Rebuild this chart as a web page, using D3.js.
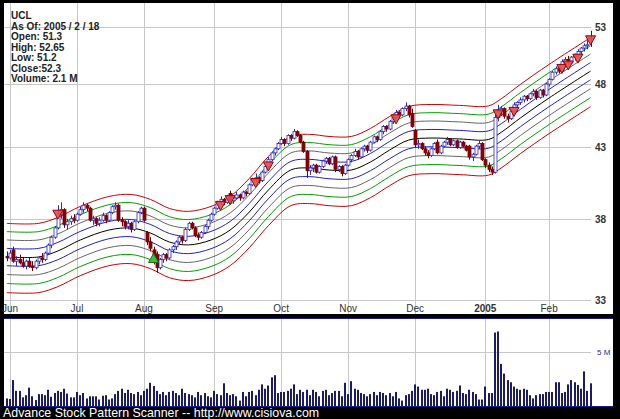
<!DOCTYPE html>
<html><head><meta charset="utf-8">
<script src="https://cdn.jsdelivr.net/npm/d3@7"></script>
<style>html,body{margin:0;padding:0;background:#000;}svg{display:block;}</style>
</head><body>
<script>
// ---- data ----
const opens  = [35.6,35.5,36.0,35.3,35.4,35.2,35.0,35.3,35.0,34.9,35.3,35.5,35.4,35.8,36.3,36.8,37.4,38.3,38.6,37.6,37.8,38.0,37.9,38.3,38.6,38.9,38.7,37.9,38.0,37.7,37.9,38.2,37.9,38.4,38.8,38.9,37.9,37.8,37.5,37.7,37.3,37.8,38.4,38.7,37.1,36.5,36.0,35.7,34.9,35.4,35.7,35.5,36.0,36.2,36.5,36.8,36.6,37.3,37.7,37.4,36.9,36.8,37.1,37.5,37.9,38.3,38.7,39.1,39.3,39.1,39.7,39.2,39.4,39.6,39.4,39.8,39.7,40.3,40.7,40.8,40.6,41.2,41.6,42.1,42.6,42.9,43.3,43.6,43.3,43.9,43.7,44.2,43.9,43.4,42.7,41.3,41.5,41.7,41.2,41.6,42.0,42.2,41.8,42.3,41.4,41.6,41.1,41.7,42.1,42.4,42.7,42.3,42.9,43.1,42.8,43.4,43.8,43.6,44.2,44.6,44.4,45.0,45.3,45.7,45.5,46.0,46.2,45.6,44.3,43.2,43.3,42.9,42.6,42.4,42.9,43.4,42.6,43.1,43.4,43.6,43.2,43.5,43.0,43.4,43.1,43.1,42.3,42.5,43.1,43.3,42.1,41.7,41.4,41.2,45.3,45.8,46.0,45.4,45.2,45.8,46.3,46.5,46.7,47.0,46.8,47.2,47.4,46.9,47.5,47.1,48.0,48.4,49.0,49.3,49.1,49.9,50.1,49.8,50.3,50.5,50.8,51.1,51.3];
const highs  = [35.9,36.0,36.2,35.6,35.7,35.5,35.4,35.5,35.3,35.4,35.6,35.8,35.9,36.4,36.9,37.5,38.9,39.1,38.7,38.0,38.2,38.3,38.4,38.8,39.1,39.0,38.8,38.2,38.1,38.1,38.4,38.3,38.5,38.9,39.1,39.0,38.1,37.9,37.9,37.8,37.9,38.5,38.8,38.8,37.2,36.8,36.2,35.9,35.5,35.8,35.8,36.1,36.3,36.6,36.9,36.9,37.4,37.8,37.8,37.5,37.1,37.2,37.6,38.0,38.4,38.8,39.2,39.5,39.4,39.6,39.9,39.5,39.8,39.7,39.9,39.9,40.4,40.8,41.1,40.9,41.3,41.7,42.3,42.7,43.0,43.4,43.8,43.7,44.0,44.0,44.4,44.3,44.0,43.5,42.8,41.7,41.8,41.8,41.7,42.1,42.3,42.3,42.4,42.4,41.7,41.7,41.8,42.2,42.5,42.9,42.8,43.0,43.2,43.2,43.5,43.9,43.9,44.3,44.7,44.7,45.1,45.5,45.9,45.8,46.1,46.5,46.3,46.0,44.4,43.6,43.4,43.1,42.8,43.0,43.4,43.6,43.2,43.5,43.8,43.7,43.6,43.6,43.5,43.5,43.2,43.2,42.6,43.2,43.5,43.4,42.2,41.9,41.6,45.5,46.3,46.2,46.1,45.6,45.9,46.5,46.6,46.9,47.1,47.1,47.3,47.6,47.5,47.6,47.6,48.1,48.5,49.1,49.5,49.4,50.1,50.3,50.4,50.4,50.6,51.0,51.2,51.5,51.8,52.65];
const lows   = [35.3,35.4,35.2,35.0,35.1,34.9,34.8,34.9,34.7,34.8,35.1,35.2,35.3,35.7,36.1,36.7,37.3,38.0,37.4,37.3,37.6,37.7,37.8,38.2,38.4,38.5,37.8,37.6,37.5,37.5,37.8,37.7,37.8,38.3,38.6,37.8,37.5,37.3,37.3,37.1,37.2,37.7,38.3,37.8,36.3,35.9,35.1,34.6,34.8,35.2,35.3,35.4,35.8,36.0,36.3,36.4,36.5,37.2,37.3,36.8,36.6,36.7,37.0,37.3,37.8,38.2,38.6,38.9,38.9,39.0,39.1,39.0,39.3,39.2,39.3,39.5,39.6,40.2,40.5,40.4,40.5,41.1,41.5,42.0,42.4,42.8,43.2,43.1,43.2,43.5,43.6,43.8,43.3,42.6,40.8,41.0,41.2,41.1,41.1,41.5,41.8,41.7,41.7,41.2,41.2,40.9,41.0,41.6,41.9,42.3,42.1,42.2,42.7,42.6,42.7,43.3,43.4,43.5,44.0,44.2,44.3,44.8,45.2,45.3,45.4,45.8,45.3,44.5,43.0,42.9,42.8,42.4,42.2,42.3,42.8,42.5,42.5,43.0,43.2,43.1,43.1,42.9,42.9,43.0,42.7,42.1,42.0,42.4,42.9,42.0,41.5,41.2,41.0,41.1,45.0,45.4,45.2,44.9,45.1,45.7,46.1,46.3,46.5,46.6,46.7,47.0,46.7,46.8,46.9,47.0,47.8,48.3,48.8,48.9,49.0,49.6,49.6,49.7,50.0,50.3,50.5,50.8,51.0,51.2];
const closes = [35.5,35.8,35.3,35.4,35.2,35.0,35.3,35.0,34.9,35.3,35.5,35.4,35.8,36.3,36.8,37.4,38.3,38.6,37.6,37.8,38.0,37.9,38.3,38.6,38.9,38.7,37.9,38.0,37.7,37.9,38.2,37.9,38.4,38.8,38.9,37.9,37.8,37.5,37.7,37.3,37.8,38.4,38.7,37.9,36.5,36.1,35.4,34.9,35.4,35.7,35.5,36.0,36.2,36.5,36.8,36.6,37.3,37.7,37.4,36.9,36.8,37.1,37.5,37.9,38.3,38.7,39.1,39.3,39.1,39.5,39.2,39.4,39.6,39.4,39.8,39.7,40.3,40.7,40.8,40.6,41.2,41.6,42.1,42.6,42.9,43.3,43.6,43.3,43.9,43.7,44.2,43.9,43.4,42.7,41.3,41.5,41.7,41.2,41.6,42.0,42.2,41.8,42.3,41.4,41.6,41.1,41.7,42.1,42.4,42.7,42.3,42.9,43.1,42.8,43.4,43.8,43.6,44.2,44.6,44.4,45.0,45.3,45.7,45.5,46.0,46.2,45.5,44.6,43.2,43.3,42.9,42.6,42.4,42.9,43.3,42.6,43.1,43.4,43.6,43.2,43.5,43.0,43.4,43.1,42.8,42.3,42.5,43.1,43.3,42.1,41.7,41.4,41.2,45.3,45.8,46.0,45.4,45.2,45.8,46.3,46.5,46.7,47.0,46.8,47.2,47.4,46.9,47.5,47.1,48.0,48.4,49.0,49.3,49.1,49.9,50.1,49.8,50.3,50.5,50.8,51.1,51.3,51.4,52.3];
const volumes = [0.7,0.65,2.4,1.4,1.4,0.8,1.0,1.7,0.9,0.55,1.1,1.1,1.0,1.5,0.85,1.2,1.4,1.3,1.6,1.15,0.8,0.8,1.3,1.0,1.2,0.7,0.9,0.9,0.9,0.6,0.95,1.0,0.6,0.7,1.1,1.4,1.6,1.2,1.5,1.2,1.1,1.3,1.0,1.4,1.6,2.15,1.85,1.4,1.1,1.3,1.0,1.3,1.4,1.2,1.0,1.6,1.2,1.1,1.0,0.8,1.3,1.0,1.2,0.9,0.8,1.4,1.1,1.0,2.1,1.2,1.0,1.1,0.9,0.5,1.3,0.9,1.3,1.4,1.0,1.5,2.0,1.6,1.9,2.65,2.85,1.2,1.3,1.3,1.4,1.6,2.0,1.1,1.5,1.3,1.5,1.0,1.5,1.3,0.9,1.4,1.5,1.0,1.2,1.4,1.4,0.9,2.15,1.1,2.3,1.6,1.5,1.2,1.1,0.9,1.1,1.3,1.0,1.3,1.2,1.0,1.2,0.9,1.3,0.7,0.5,1.0,1.1,1.4,2.0,1.8,1.5,1.5,1.6,1.1,1.0,1.3,1.4,0.9,1.6,1.5,1.3,1.4,1.9,1.2,1.1,1.5,1.3,1.1,0.6,0.6,1.8,1.2,1.2,6.8,6.9,3.9,3.0,2.4,2.2,1.8,1.6,1.5,1.6,1.5,1.0,0.7,1.0,1.1,1.1,1.3,1.3,1.3,2.2,2.2,1.2,1.3,2.0,2.4,2.2,1.95,1.6,3.2,1.4,2.1];

// smoothed band centre, read at bar indices
const bandIdx = [0,10,16,23,32,39,45,51,57,64,70,76,82,89,95,101,108,114,120,126,133,142,151,155,161,170,183];
const bandMid = [35.56,35.56,35.93,36.62,37.26,37.39,37.07,36.49,36.31,36.62,37.26,38.44,39.94,41.35,41.50,41.35,41.35,41.93,42.81,43.56,43.71,43.64,43.60,44.15,45.26,46.86,49.10];
const bandPct = [0.06,0.045,0.03,0.015,0,-0.015,-0.03,-0.045,-0.06];
const bandColors = ["#d00000","#00a000","#666666","#2020c8","#000000","#2020c8","#666666","#00a000","#d00000"];

const sellIdx = [16,67,70,78,82,122,154,159,174,176,179,183];
const buyIdx = [46];

const monthIdx = [1,22,43,65,86,107,128,150,170];
const monthLabels = ["Jun","Jul","Aug","Sep","Oct","Nov","Dec","2005","Feb"];
const priceTicks = [33,38,43,48,53];
const volTicks = [5];

const infoLines = ["UCL","As Of: 2005 / 2 / 18","Open: 51.3","High: 52.65","Low: 51.2","Close:52.3","Volume: 2.1 M"];
const footer = "Advance Stock Pattern Scanner -- http://www.cisiova.com";

// ---- layout ----
const W = 620, H = 419;
const font = "'Liberation Sans', Arial, sans-serif";
const svg = d3.select("body").append("svg").attr("width", W).attr("height", H)
  .style("background", "#000");

const main = {l:4, r:613, t:3, b:314};
const vol = {l:4, r:613, t:319, b:406};

svg.append("rect").attr("x", main.l).attr("y", main.t).attr("width", main.r-main.l).attr("height", main.b-main.t).attr("fill", "#fff");
svg.append("rect").attr("x", vol.l).attr("y", vol.t).attr("width", vol.r-vol.l).attr("height", vol.b-vol.t).attr("fill", "#fff");
svg.append("line").attr("x1", vol.l).attr("x2", vol.r).attr("y1", vol.t-0.5).attr("y2", vol.t-0.5).attr("stroke", "#1a1a8a");

const x = d3.scaleLinear().domain([0, 183]).range([6.8, 590.6]);
const y = d3.scaleLog().domain([33, 53]).range([300, 27]);
const yv = d3.scaleLinear().domain([0, 5]).range([406, 352]);

// grids
const g = svg.append("g");
g.selectAll(".vg").data(monthIdx).join("line")
  .attr("x1", d => Math.round(x(d))+0.5).attr("x2", d => Math.round(x(d))+0.5)
  .attr("y1", main.t).attr("y2", main.b).attr("stroke", "#c8c8c8");
g.selectAll(".vg2").data(monthIdx).join("line")
  .attr("x1", d => Math.round(x(d))+0.5).attr("x2", d => Math.round(x(d))+0.5)
  .attr("y1", vol.t).attr("y2", vol.b).attr("stroke", "#c8c8c8");
g.selectAll(".hg").data(priceTicks).join("line")
  .attr("x1", main.l).attr("x2", 591)
  .attr("y1", d => Math.round(y(d))+0.5).attr("y2", d => Math.round(y(d))+0.5)
  .attr("stroke", "#c8c8c8");
g.selectAll(".pl").data(priceTicks).join("text")
  .attr("x", 595).attr("y", d => y(d)+4).text(d => d)
  .attr("font-family", font).attr("font-size", 10).attr("font-weight", "bold").attr("fill", "#333");
g.selectAll(".ml").data(monthIdx).join("text")
  .attr("x", d => x(d)).attr("y", 312).attr("text-anchor", "middle")
  .text((d,i) => monthLabels[i])
  .attr("font-family", font).attr("font-size", 10)
  .attr("font-weight", (d,i) => monthLabels[i] === "2005" ? "bold" : "normal")
  .attr("fill", "#333");
g.selectAll(".vgl").data(volTicks).join("line")
  .attr("x1", vol.l).attr("x2", 591)
  .attr("y1", d => Math.round(yv(d))+0.5).attr("y2", d => Math.round(yv(d))+0.5)
  .attr("stroke", "#c8c8c8");
g.selectAll(".vtl").data(volTicks).join("text")
  .attr("x", 597).attr("y", d => yv(d)+3).text(d => d + " M")
  .attr("font-family", font).attr("font-size", 8).attr("fill", "#2a2a9a");

// bands
const bandLine = d3.line().x(d => x(d[0])).y(d => y(d[1])).curve(d3.curveCatmullRom.alpha(0.5));
bandPct.forEach((p, k) => {
  const pts = bandIdx.map((d, i) => [d, bandMid[i] * (1 + p)]);
  svg.append("path").attr("d", bandLine(pts)).attr("fill", "none")
    .attr("stroke", bandColors[k]).attr("stroke-width", 1);
});

// candles
const idx = d3.range(closes.length);
const cg = svg.append("g");
idx.forEach(i => {
  const up = closes[i] >= opens[i];
  const cx = Math.round(x(i)) + 0.5;
  const col = up ? "#2a2ac8" : "#7a0000";
  cg.append("line").attr("x1", cx).attr("x2", cx)
    .attr("y1", y(highs[i])).attr("y2", y(lows[i])).attr("stroke", col);
  const yt = y(Math.max(opens[i], closes[i])), yb = y(Math.min(opens[i], closes[i]));
  cg.append("rect").attr("x", cx - 1.5).attr("y", yt)
    .attr("width", 3).attr("height", Math.max(1, yb - yt))
    .attr("fill", up ? "#fff" : "#8a0000").attr("stroke", col).attr("stroke-width", 0.8);
});

// signals
sellIdx.forEach(i => {
  const cx = x(i), top = y(highs[i]) + 5;
  svg.append("path").attr("d", `M${cx-5},${top}L${cx+5},${top}L${cx},${top+9}Z`)
    .attr("fill", "#e05050").attr("stroke", "#a00000").attr("stroke-width", 1).attr("fill-opacity", 0.9);
});
buyIdx.forEach(i => {
  const cx = x(i), base = y(lows[i]) - 2;
  svg.append("path").attr("d", `M${cx-5},${base}L${cx+5},${base}L${cx},${base-9}Z`)
    .attr("fill", "#40c040").attr("stroke", "#107010").attr("stroke-width", 1);
});

// volume bars
svg.append("g").selectAll("rect").data(volumes).join("rect")
  .attr("x", (d, i) => Math.round(x(i)) - 1).attr("y", d => yv(d))
  .attr("width", 2).attr("height", d => yv(0) - yv(d)).attr("fill", "#1a1a6e");
svg.append("line").attr("x1", vol.l).attr("x2", vol.r).attr("y1", vol.b+0.5).attr("y2", vol.b+0.5).attr("stroke", "#1a1a8a");

// info text
svg.append("g").selectAll("text").data(infoLines).join("text")
  .attr("x", 11).attr("y", (d, i) => 19 + i * 10.5).text(d => d)
  .attr("font-family", font).attr("font-size", 10).attr("font-weight", "bold").attr("fill", "#222");

// footer
svg.append("text").attr("x", 3).attr("y", 417).text(footer)
  .attr("font-family", font).attr("font-size", 12.4).attr("fill", "#fff");
</script>
</body></html>
